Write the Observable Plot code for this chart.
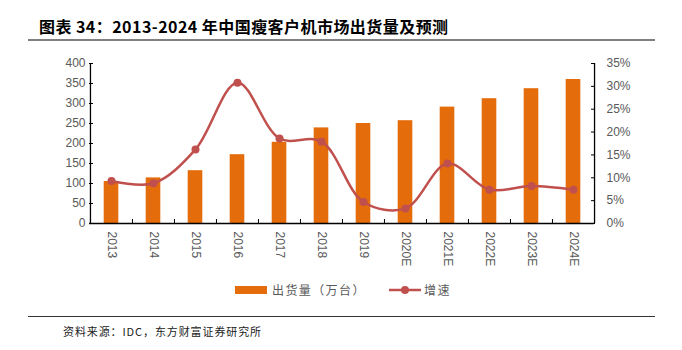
<!DOCTYPE html>
<html>
<head>
<meta charset="utf-8">
<script src="https://cdn.jsdelivr.net/npm/d3@7"></script>
<script src="https://cdn.jsdelivr.net/npm/@observablehq/plot@0.6"></script>
<style>
  html, body { margin: 0; padding: 0; background: #fff; }
  #wrap { position: relative; width: 682px; height: 350px; overflow: hidden; font-family: "Liberation Sans", Arial, sans-serif; }
  #chart { position: absolute; left: 0; top: 0; }
  .title { position: absolute; left: 39px; top: 16px; font-family: "Noto Sans CJK SC", sans-serif; font-weight: bold; font-size: 16px; line-height: 20px; color: #000; white-space: nowrap; letter-spacing: 0.45px; }
  .hline1 { position: absolute; left: 28px; width: 627px; top: 39px; height: 2px; background: #808080; }
  .hline2 { position: absolute; left: 28px; width: 627px; top: 316px; height: 1px; background: #333; }
  .source { position: absolute; left: 63px; top: 323px; font-family: "Noto Sans CJK SC", sans-serif; font-size: 11px; line-height: 16px; color: #222; letter-spacing: 0.9px; white-space: nowrap; }
  .legend { position: absolute; top: 281px; left: 235px; height: 18px; font-family: "Noto Sans CJK SC", sans-serif; font-size: 12px; color: #595959; white-space: nowrap; }
  .legend span { position: absolute; top: 0; line-height: 18px; }
</style>
</head>
<body>
<div id="wrap">
  <div id="chart"></div>
  <div class="title">图表 34：2013-2024 年中国瘦客户机市场出货量及预测</div>
  <div class="hline1"></div>
  <div class="legend" id="legend"></div>
  <div class="hline2"></div>
  <div class="source">资料来源：IDC，东方财富证券研究所</div>
</div>
<script>
const years = ["2013","2014","2015","2016","2017","2018","2019","2020E","2021E","2022E","2023E","2024E"];
const shipments = [105, 114, 132, 172, 203, 239, 250, 257, 291, 312, 337, 360];
const growth = [9.3, 8.8, 16.2, 30.8, 18.6, 17.9, 4.7, 3.3, 13.1, 7.4, 8.2, 7.4];
const leftTicks = [0, 50, 100, 150, 200, 250, 300, 350, 400];
const rightTicks = [0, 5, 10, 15, 20, 25, 30, 35];
const seriesNames = ["出货量（万台）", "增速"];

const barColor = "#E46C0A";
const lineColor = "#C0504D";
const textColor = "#595959";

const leftMax = 400, rightMax = 35;
const k = leftMax / rightMax;

const data = years.map((y, i) => ({year: y, ship: shipments[i], g: growth[i], gy: growth[i] * k}));

const W = 682, H = 350;
const mL = 89, mR = 88, mT = 63, mB = 127;
const bw = (W - mL - mR) / years.length;
const barW = 14.7;
const inset = (bw - barW) / 2;

const plot = Plot.plot({
  width: W, height: H,
  marginLeft: mL, marginRight: mR, marginTop: mT, marginBottom: mB,
  style: {fontFamily: "'Liberation Sans', Arial, sans-serif", fontSize: "12px", color: textColor, background: "transparent"},
  x: {domain: years, padding: 0, axis: null, label: null},
  y: {domain: [0, leftMax], axis: null, label: null},
  marks: [
    Plot.barY(data, {x: "year", y: "ship", fill: barColor, insetLeft: inset, insetRight: inset}),
    Plot.axisY(leftTicks, {anchor: "left", label: null, tickSize: 0, tickPadding: 4, fill: textColor, fontSize: 12}),
    Plot.axisY(leftTicks, {anchor: "left", label: null, tickSize: 4, text: null, dx: 4, stroke: "#000"}),
    Plot.axisY(rightTicks.map(v => v * k), {anchor: "right", label: null, tickSize: 0, tickPadding: 12, fill: textColor, fontSize: 12, tickFormat: d => Math.round(d / k) + "%"}),
    Plot.axisY(rightTicks.map(v => v * k), {anchor: "right", label: null, tickSize: 4, text: null, dx: -4, stroke: "#000"}),
    Plot.axisX(years, {anchor: "bottom", label: null, tickSize: 0, tickPadding: 8, tickRotate: 90, fill: textColor, fontSize: 12}),
    Plot.ruleX(years, {x: d => d, y1: 0, y2: 10, dx: -bw / 2, stroke: "#000"}),
    Plot.ruleX([years[0]], {x: d => d, dx: -bw / 2, y1: 0, y2: leftMax, stroke: "#000", strokeWidth: 1.3}),
    Plot.ruleX([years[years.length - 1]], {x: d => d, dx: bw / 2, y1: 0, y2: leftMax, stroke: "#000", strokeWidth: 1.3}),
    Plot.ruleY([0], {stroke: "#000", strokeWidth: 1.3}),
    Plot.line(data, {x: "year", y: "gy", stroke: lineColor, strokeWidth: 2.5, curve: "catmull-rom"}),
    Plot.dot(data, {x: "year", y: "gy", r: 4, fill: lineColor, stroke: "none"})
  ]
});
document.getElementById("chart").appendChild(plot);

const lg = document.getElementById("legend");
lg.innerHTML =
  `<span style="left:0;top:5px;width:32px;height:8px;background:${barColor};display:block"></span>` +
  `<span style="left:37px;letter-spacing:1.4px">${seriesNames[0]}</span>` +
  `<svg style="position:absolute;left:154px;top:0" width="34" height="18"><line x1="0" y1="9" x2="32" y2="9" stroke="${lineColor}" stroke-width="2.5"/><circle cx="16" cy="9" r="4" fill="${lineColor}"/></svg>` +
  `<span style="left:189px;letter-spacing:1.4px">${seriesNames[1]}</span>`;
</script>
</body>
</html>
